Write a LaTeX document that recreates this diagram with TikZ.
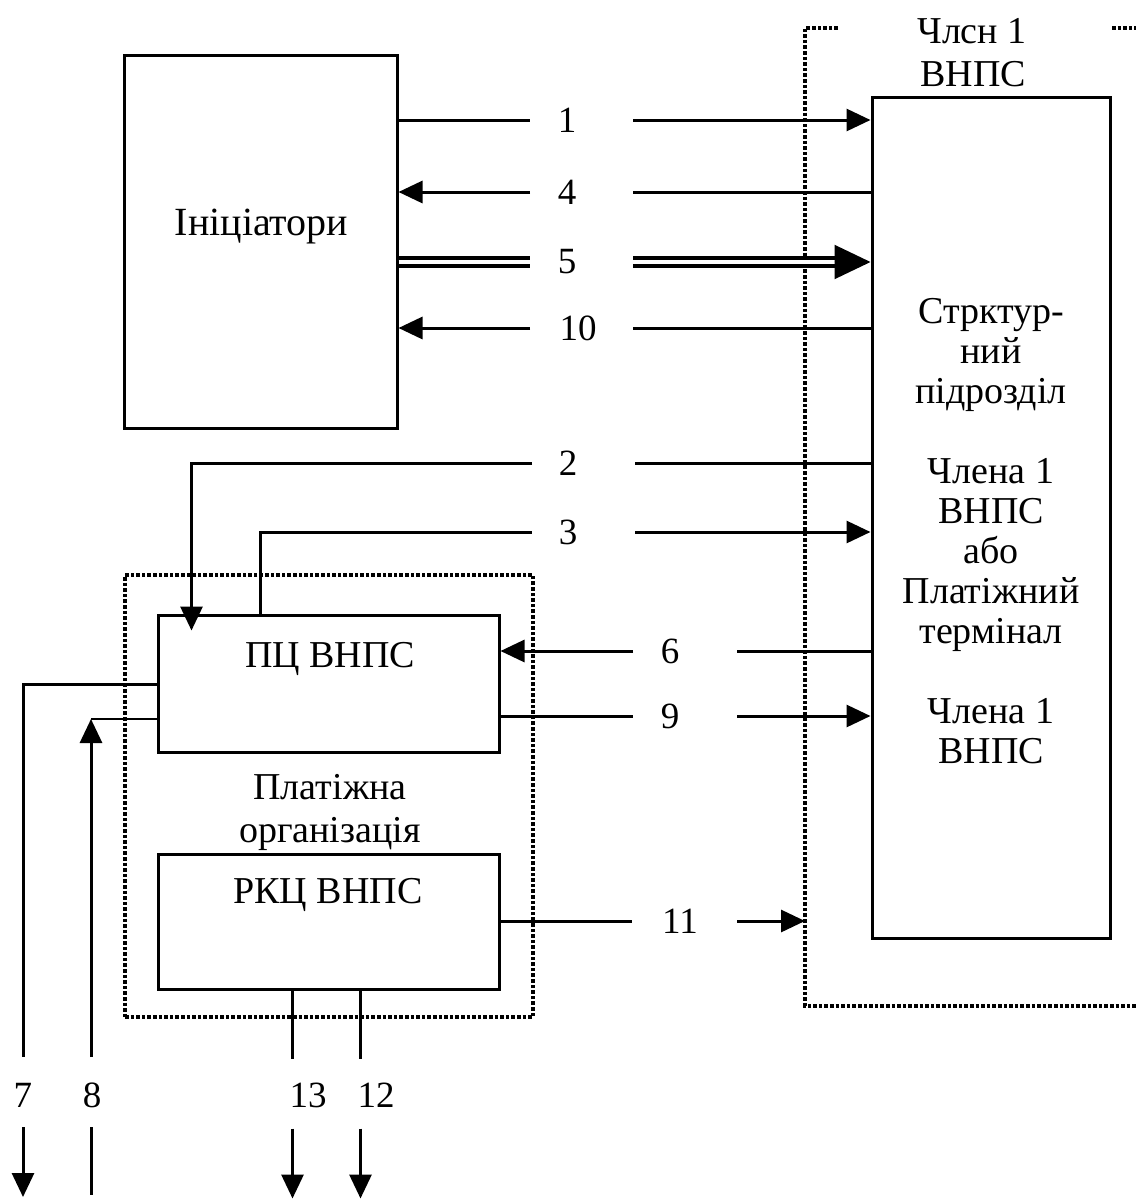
\documentclass[tikz,border=0pt]{standalone}
\usepackage{fontspec}
\setmainfont{Liberation Serif}
\usetikzlibrary{arrows.meta,calc}
\tikzset{
  box/.style={draw, line width=1.5pt, inner sep=0pt},
  conn/.style={line width=1.5pt},
  thinl/.style={line width=0.75pt},
  arr/.style={conn, -{Triangle[length=12pt,width=11pt]}},
  dbl/.style={line width=2pt, double, double distance=1.75pt},
  num/.style={font=\fontsize{18.5}{20}\selectfont, inner sep=0pt},
  txt/.style={font=\fontsize{19}{20}\selectfont, inner sep=0pt, anchor=base},
  dots/.style={line width=1.6pt, dash pattern=on 1.8pt off 1pt},
}
\begin{document}
\begin{tikzpicture}[x=0.5pt,y=-0.5pt]
\useasboundingbox (0,0) rectangle (1136,1199);

% boxes
\node[box, minimum width=136.5pt, minimum height=186.5pt] (ini) at (260.5,241.5) {};
\node[box, minimum width=119pt, minimum height=420.5pt] (mem) at (991,517.5) {};
\node[box, minimum width=170.5pt, minimum height=68.5pt] (pc) at (328.5,683.5) {};
\node[box, minimum width=170.5pt, minimum height=67.5pt] (rkc) at (328.5,921.5) {};
\node[draw, dots, inner sep=0pt, minimum width=204pt, minimum height=221pt] (org) at (329,796) {};

% outer dotted frame
\coordinate (dv) at (805,28);
\draw[dots] (838,28) -- (dv) -- (805,1006) -- (1136,1006);
\draw[dots] (1112,28) -- (1136,28);

% texts
\node[txt, font=\fontsize{20}{20}\selectfont] (tini) at (261.5,235) {Ініціатори};
\node[txt] (tm1) at (972,43) {Члсн 1};
\node[txt] (tm2) at (973,86) {ВНПС};
\node[txt] (r1) at (991,323) {Стрктур-};
\node[txt] (r2) at (991,363) {ний};
\node[txt] (r3) at (991,403) {підрозділ};
\node[txt] (r4) at (991,483) {Члена 1};
\node[txt] (r5) at (991,523) {ВНПС};
\node[txt] (r6) at (991,563) {або};
\node[txt] (r7) at (991,603) {Платіжний};
\node[txt] (r8) at (991,643) {термінал};
\node[txt] (r9) at (991,723) {Члена 1};
\node[txt] (r10) at (991,763) {ВНПС};
\node[txt] (tpc) at (330,667) {ПЦ ВНПС};
\node[txt] (torg1) at (330,799) {Платіжна};
\node[txt] (torg2) at (330,842) {організація};
\node[txt] (trkc) at (328,903) {РКЦ ВНПС};

% number labels
\node[num] (l1) at (567,120) {1};
\node[num] (l4) at (567,192) {4};
\node[num] (l5) at (567,262) {5};
\node[num] (l10) at (578,328) {10};
\node[num] (l2) at (568,463) {2};
\node[num] (l3) at (568,532) {3};
\node[num] (l6) at (670,651) {6};
\node[num] (l9) at (670,716) {9};
\node[num] (l11) at (680,921) {11};
\node[num] (l7) at (23,1095) {7};
\node[num] (l8) at (92,1095) {8};
\node[num] (l13) at (308,1095) {13};
\node[num] (l12) at (376,1095) {12};

% 1
\draw[conn] (ini.east |- l1) -- ($(l1)+(-37,0)$);
\draw[arr] ($(l1)+(66,0)$) -- (mem.west |- l1);
% 4
\draw[conn] (mem.west |- l4) -- ($(l4)+(66,0)$);
\draw[arr] ($(l4)+(-37,0)$) -- (ini.east |- l4);
% 5 (double)
\draw[dbl] (ini.east |- l5) -- ($(l5)+(-37,0)$);
\draw[dbl] ($(l5)+(66,0)$) -- ($(mem.west |- l5)+(-30,0)$);
\draw[line width=1pt, -{Triangle[length=18pt,width=17pt]}] ($(mem.west |- l5)+(-36,0)$) -- (mem.west |- l5);
% 10
\draw[conn] (mem.west |- l10) -- ($(l10)+(55,0)$);
\draw[arr] ($(l10)+(-48,0)$) -- (ini.east |- l10);
% 2
\draw[conn] (mem.west |- l2) -- ($(l2)+(67,0)$);
\draw[arr] ($(l2)+(-36,0)$) -| ($(pc.north west)+(35,17)$);
% 3
\draw[conn] ($(pc.north west)+(104,0)$) |- ($(l3)+(-36,0)$);
\draw[arr] ($(l3)+(67,0)$) -- (mem.west |- l3);
% 6
\draw[conn] (mem.west |- l6) -- ($(l6)+(67,0)$);
\draw[arr] ($(l6)+(-37,0)$) -- (pc.east |- l6);
% 9
\draw[conn] (pc.east |- l9) -- ($(l9)+(-37,0)$);
\draw[arr] ($(l9)+(67,0)$) -- (mem.west |- l9);
% 11
\draw[conn] (rkc.east |- l11) -- ($(l11)+(-48,0)$);
\draw[arr] ($(l11)+(57,0)$) -- (dv |- l11);
% 7
\draw[conn] ($(pc.north west)+(0,71)$) -| ($(l7)+(0,-38)$);
\draw[arr] ($(l7)+(0,32)$) -- ($(l7)+(0,102)$);
% 8
\coordinate (c8) at (91,719);
\draw[arr] ($(l8)+(-1,-38)$) -- (c8);
\draw[thinl] (c8) -- (pc.west |- c8);
\draw[conn] ($(l8)+(-1,32)$) -- ($(l8)+(-1,100)$);
% 13, 12
\coordinate (c13) at ($(rkc.south west)+(136,0)$);
\coordinate (c12) at ($(rkc.south west)+(204,0)$);
\draw[conn] (c13) -- ($(c13)+(0,68)$);
\draw[arr] ($(c13)+(0,138)$) -- ($(c13)+(0,208)$);
\draw[conn] (c12) -- ($(c12)+(0,68)$);
\draw[arr] ($(c12)+(0,138)$) -- ($(c12)+(0,208)$);
\end{tikzpicture}
\end{document}
